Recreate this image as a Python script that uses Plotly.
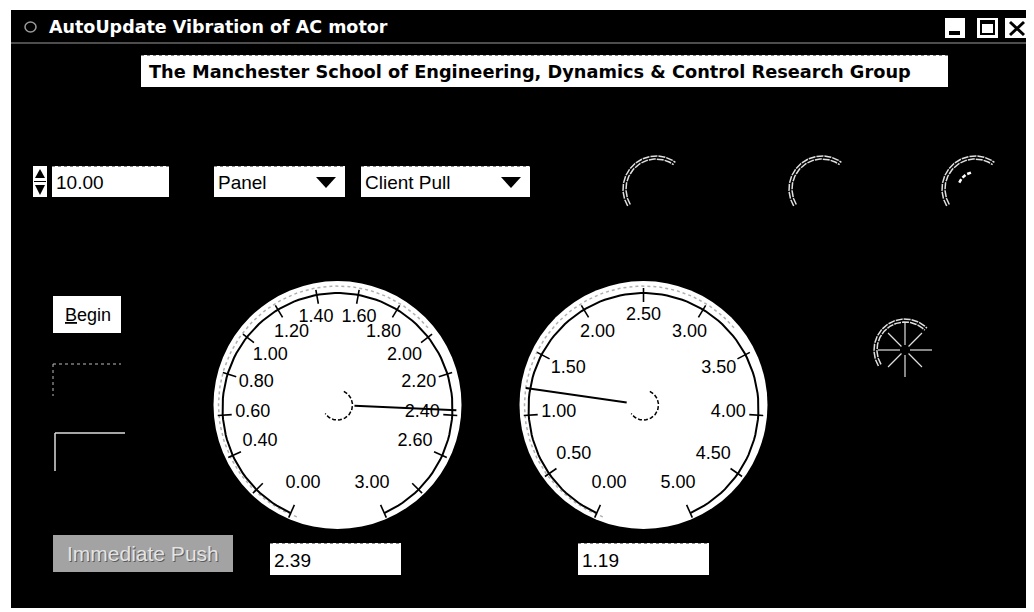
import numpy as np
import plotly.graph_objects as go

# ---------------- data ----------------
window_title = "AutoUpdate Vibration of AC motor"
header_text = "The Manchester School of Engineering, Dynamics & Control Research Group"
interval_value = 10.00
view_option = "Panel"
mode_option = "Client Pull"
begin_label = "Begin"
push_label = "Immediate Push"

gauge1_range = [0.0, 3.0]
gauge1_tick_values = [0.0, 0.2, 0.4, 0.6, 0.8, 1.0, 1.2, 1.4, 1.6, 1.8, 2.0, 2.2, 2.4, 2.6, 2.8, 3.0]
gauge1_label_values = [0.0, 0.4, 0.6, 0.8, 1.0, 1.2, 1.4, 1.6, 1.8, 2.0, 2.2, 2.4, 2.6, 3.0]
gauge1_labels = ["0.00", "0.40", "0.60", "0.80", "1.00", "1.20", "1.40", "1.60",
                 "1.80", "2.00", "2.20", "2.40", "2.60", "3.00"]
gauge1_value = 2.39

gauge2_range = [0.0, 5.0]
gauge2_tick_values = [0.0, 0.5, 1.0, 1.5, 2.0, 2.5, 3.0, 3.5, 4.0, 4.5, 5.0]
gauge2_label_values = [0.0, 0.5, 1.0, 1.5, 2.0, 2.5, 3.0, 3.5, 4.0, 4.5, 5.0]
gauge2_labels = ["0.00", "0.50", "1.00", "1.50", "2.00", "2.50", "3.00", "3.50",
                 "4.00", "4.50", "5.00"]
gauge2_value = 1.19

# ---------------- geometry helpers ----------------
SWEEP_START, SWEEP = -156.0, 312.0
FONT = "Liberation Sans, Arial, sans-serif"
BOLD_FONT = "DejaVu Sans, Liberation Sans, sans-serif"
PAGE_OFFSET = 8  # default body margin of the html page


def val_to_deg(v, rng):
    return SWEEP_START + (v - rng[0]) / (rng[1] - rng[0]) * SWEEP


def polar(cx, cy, r, deg):
    a = np.radians(np.asarray(deg, dtype=float))
    return cx + r * np.sin(a), cy - r * np.cos(a)


def arc(cx, cy, r, d0, d1, n=120):
    return polar(cx, cy, r, np.linspace(d0, d1, n))


fig = go.Figure()
shapes = []
annotations = []


def rect(x0, y0, x1, y1, fill="white", line=None, lw=0):
    shapes.append(dict(type="rect", x0=x0, y0=y0, x1=x1, y1=y1, layer="below",
                       fillcolor=fill, line=dict(color=line or fill, width=lw)))


def seg(x0, y0, x1, y1, color, width=1, dash="solid"):
    shapes.append(dict(type="line", x0=x0, y0=y0, x1=x1, y1=y1, layer="below",
                       line=dict(color=color, width=width, dash=dash)))


def text(x, y, s, size=16, color="black", xanchor="left", bold=False):
    annotations.append(dict(x=x, y=y, xref="x", yref="y", text=(f"<b>{s}</b>" if bold else s),
                            showarrow=False, xanchor=xanchor, yanchor="middle",
                            font=dict(family=(BOLD_FONT if bold else FONT), size=size, color=color)))


def line_trace(xs, ys, color="black", width=2, dash="solid"):
    fig.add_trace(go.Scatter(x=xs, y=ys, mode="lines", hoverinfo="skip", showlegend=False,
                             line=dict(color=color, width=width, dash=dash)))


# ---------------- window chrome ----------------
rect(11, 10, 1040, 608, fill="black")
seg(11, 43, 1040, 43, "#9a9a9a", 1)
text(47, 27, window_title, size=17.5, color="white", bold=True)
shapes.append(dict(type="circle", x0=25, y0=22, x1=36, y1=32, layer="below",
                   line=dict(color="#9a9a9a", width=1.5)))
# min / max / close buttons
rect(945, 18, 965, 38)
rect(949, 31, 960, 35, fill="black")
rect(977, 18, 998, 38)
shapes.append(dict(type="rect", x0=981, y0=21, x1=994, y1=34, layer="below",
                   line=dict(color="black", width=2)))
rect(981, 21, 994, 24, fill="black")
rect(1005, 18, 1029, 38)
seg(1010, 22, 1024, 35, "black", 3)
seg(1024, 22, 1010, 35, "black", 3)

# header
rect(141, 55, 948, 87)
seg(141, 55.5, 948, 55.5, "#888888", 1, "dot")
text(147, 72, header_text, size=17.75, bold=True)

# spinner + text box
rect(33, 166, 47, 197)
shapes.append(dict(type="path", path="M 35 178 L 40 169 L 45 178 Z", layer="below",
                   fillcolor="black", line=dict(color="black", width=0)))
shapes.append(dict(type="path", path="M 35 185 L 40 195 L 45 185 Z", layer="below",
                   fillcolor="black", line=dict(color="black", width=0)))
seg(34, 181.5, 46, 181.5, "black", 1)
rect(52, 166, 169, 197)
seg(52, 166.5, 169, 166.5, "#888888", 1, "dot")
text(54, 182, f"{interval_value:.2f}", size=19)

# dropdowns
for (x0, x1, label) in [(214, 345, view_option), (361, 530, mode_option)]:
    rect(x0, 166, x1, 197)
    seg(x0, 166.5, x1, 166.5, "#888888", 1, "dot")
    tx = x1 - 19
    shapes.append(dict(type="path", path=f"M {tx-10} 177 L {tx+10} 177 L {tx} 188 Z",
                       layer="below", fillcolor="black", line=dict(color="black", width=0)))
    text(x0 + 2, 182, label, size=19)

# left controls
rect(53, 296, 121, 333)
text(88, 315, "<u>B</u>egin", size=18, xanchor="center")
seg(53, 364, 121, 364, "#bbbbbb", 1, "dot")
seg(53, 364, 53, 396, "#bbbbbb", 1, "dot")
seg(55, 433, 125, 433, "#dddddd", 1.5)
seg(55, 433, 55, 471, "#dddddd", 1.5)

rect(53, 535, 233, 572, fill="#a3a3a3")
text(144, 554, push_label, size=21, color="#5a5a5a", xanchor="center")
text(143, 553, push_label, size=21, color="#e4e4e4", xanchor="center")

# value boxes
for (x0, val) in [(270, gauge1_value), (578, gauge2_value)]:
    rect(x0, 543, x0 + 131, 575)
    seg(x0, 543.5, x0 + 131, 543.5, "#888888", 1, "dot")
    text(x0 + 2, 560, f"{val:.2f}", size=19)


# ---------------- gauges ----------------
def draw_gauge(cx, cy, rng, tick_vals, label_vals, labels, value):
    shapes.append(dict(type="circle", x0=cx - 124, y0=cy - 127, x1=cx + 124, y1=cy + 121,
                       layer="below", fillcolor="white", line=dict(color="white", width=0)))
    # bevel
    bx, by = arc(cx, cy - 3, 119, -160, 50)
    line_trace(bx, by, color="#b0b0b0", width=1.5, dash="dot")
    # scale arc
    ax_, ay_ = arc(cx, cy, 115, val_to_deg(rng[0], rng), val_to_deg(rng[1], rng))
    line_trace(ax_, ay_, width=2)
    # ticks
    tx, ty = [], []
    for v in tick_vals:
        d = val_to_deg(v, rng)
        x0, y0 = polar(cx, cy, 106, d)
        x1, y1 = polar(cx, cy, 120, d)
        tx += [float(x0), float(x1), None]
        ty += [float(y0), float(y1), None]
    line_trace(tx, ty, width=1.6)
    # labels (slightly spread apart near the top of the dial)
    a = np.radians([val_to_deg(v, rng) for v in label_vals])
    c8 = np.clip(np.cos(a), 0, None) ** 8
    lx = cx + 85 * np.sin(a) + 7 * np.sign(np.sin(a)) * c8
    ly = cy - 84 * np.cos(a) - 1 - 8 * c8
    fig.add_trace(go.Scatter(x=lx, y=ly, mode="text", text=labels, hoverinfo="skip",
                             showlegend=False, textposition="middle center",
                             textfont=dict(family=FONT, size=18, color="black")))
    # hub
    hx, hy = arc(cx, cy - 3, 15, 25, 235, 60)
    line_trace(hx, hy, width=1.5, dash="4px,2px")
    # needle
    d = val_to_deg(value, rng)
    nx0, ny0 = polar(cx, cy - 3, 17, d)
    nx1, ny1 = polar(cx, cy - 3, 119, d)
    line_trace([nx0, nx1], [ny0, ny1], width=2)


draw_gauge(337.5, 408, gauge1_range, gauge1_tick_values, gauge1_label_values, gauge1_labels, gauge1_value)
draw_gauge(643.5, 408, gauge2_range, gauge2_tick_values, gauge2_label_values, gauge2_labels, gauge2_value)


# ---------------- status icons ----------------
def icon_arc(cx, cy, r_out=33, end=36):
    for r in (r_out, r_out - 3):
        x, y = arc(cx, cy, r, -121, end, 80)
        line_trace(x, y, color="#e0e0e0", width=1.5, dash="7px,1px")


icon_arc(656, 189)
icon_arc(822, 189)
icon_arc(975, 189)
ix, iy = arc(975, 189, 17, -68, -8, 20)
line_trace(ix, iy, color="white", width=2.5, dash="4px,2px")

# wheel icon
icon_arc(905, 350, r_out=31, end=45)
rx, ry = [], []
for d in range(0, 360, 45):
    rr = 27 if d % 90 == 0 else 24
    x0, y0 = polar(905, 350, 5, d)
    x1, y1 = polar(905, 350, rr, d)
    rx += [float(x0), float(x1), None]
    ry += [float(y0), float(y1), None]
line_trace(rx, ry, color="#e0e0e0", width=1.2)

fig.update_layout(
    width=1034, height=612,
    margin=dict(l=0, r=0, t=0, b=0),
    paper_bgcolor="white", plot_bgcolor="white",
    xaxis=dict(range=[PAGE_OFFSET, 1034 + PAGE_OFFSET], visible=False, fixedrange=True),
    yaxis=dict(range=[612 + PAGE_OFFSET, PAGE_OFFSET], visible=False, fixedrange=True),
    shapes=shapes, annotations=annotations, showlegend=False,
)
fig.write_html("out.html")
